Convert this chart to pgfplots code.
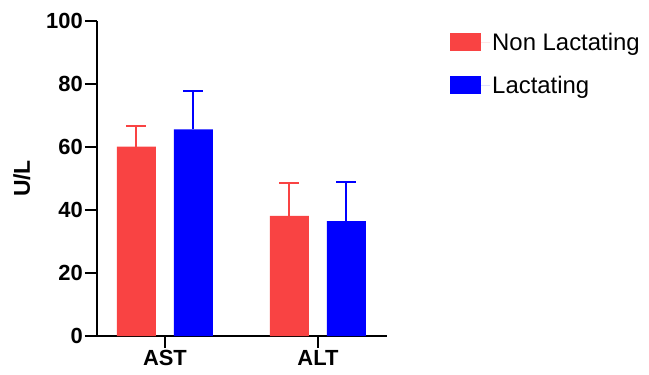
\documentclass[border=0pt]{standalone}
\usepackage{pgfplots}
\pgfplotsset{compat=1.18}
\usepackage{fontspec}
\setmainfont{Liberation Sans}
\definecolor{myred}{HTML}{F94343}
\definecolor{myblue}{HTML}{0000FF}
\begin{document}
\begin{tikzpicture}
\begin{axis}[
 scale only axis, width=290bp, height=315bp, clip=false,
 ymin=0, ymax=100, ytick={0,20,...,100},
 xmin=-0.444, xmax=1.451, xtick={0,1}, xticklabels={AST,ALT},
 axis lines=left,
 axis line style={-, line width=2.5bp, black},
 tick style={draw=black, line width=2.5bp},
 tick align=outside, major tick length=12bp,
 ticklabel style={font=\bfseries\fontsize{22}{26}\selectfont, inner sep=2bp},
 /pgf/number format/assume math mode=true,
 ylabel={U/L},
 ylabel style={font=\bfseries\fontsize{23}{27}\selectfont, at={(axis description cs:-0.259,0.5)}, anchor=center},
 ybar=18bp, bar width=39bp,
 legend style={draw=none, fill=none, at={(axis description cs:1.207,0.975)}, anchor=north west, font=\fontsize{24}{28}\selectfont, row sep=20bp, legend cell align=left},
 legend image code/.code={\fill (0bp,-9bp) rectangle (31bp,9bp); \path (0bp,0bp) -- (40bp,0bp);},
]
\coordinate (O) at (axis description cs:0,0);
\addplot[fill=myred, draw=none,
  error bars/.cd, y dir=plus, y explicit,
  error bar style={line width=2bp, color=myred},
  error mark options={rotate=90, mark size=10bp, line width=2bp, color=myred}]
  coordinates {(0,60.1) +- (0,6.6) (1,38.1) +- (0,10.6)};
\addplot[fill=myblue, draw=none,
  error bars/.cd, y dir=plus, y explicit,
  error bar style={line width=2bp, color=myblue},
  error mark options={rotate=90, mark size=10bp, line width=2bp, color=myblue}]
  coordinates {(0,65.6) +- (0,12.3) (1,36.5) +- (0,12.5)};
\legend{Non Lactating, Lactating}
\pgfplotsinvokeforeach{0,20,40,60,80,100}{
  \draw[black, line width=2.5bp] (axis cs:-0.444,#1) -- ++(-12bp,0bp);
}
\pgfplotsinvokeforeach{0,1}{
  \draw[black, line width=2.5bp] (axis cs:#1,0) -- ++(0bp,-12bp);
}
\end{axis}
\pgfresetboundingbox
\path (O) ++(-97bp,-39bp) rectangle ++(649bp,375bp);
\end{tikzpicture}
\end{document}
